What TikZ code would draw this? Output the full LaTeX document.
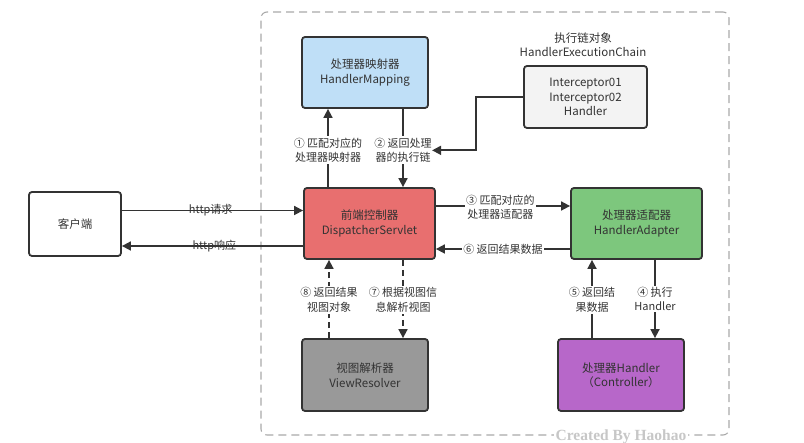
\documentclass[tikz,border=0pt]{standalone}
\usepackage{fontspec}
\setmainfont{Noto Sans CJK SC}
\newfontfamily\wmfont{Liberation Serif}
\usetikzlibrary{arrows.meta}
\definecolor{ink}{HTML}{333333}
\definecolor{hmfill}{HTML}{BFDFF7}
\definecolor{dsfill}{HTML}{E86F6F}
\definecolor{hafill}{HTML}{7DC77D}
\definecolor{vrfill}{HTML}{999999}
\definecolor{hcfill}{HTML}{B767C9}
\definecolor{chfill}{HTML}{F3F3F3}
\definecolor{framec}{HTML}{AAAAAA}
\tikzset{
  box/.style={draw=ink, line width=1.8pt, rounded corners=3pt, align=center,
    text=ink, font=\fontsize{11.5}{14.5}\selectfont, inner sep=0pt},
  conn/.style={draw=ink, line width=1.7pt},
  arr/.style={conn, -{Triangle[length=9pt,width=9pt]}},
  darr/.style={arr, dash pattern=on 6pt off 4pt},
  lbl/.style={fill=white, text=ink, align=center, inner sep=1.5pt,
    font=\fontsize{11}{14.5}\selectfont},
  plbl/.style={text=ink, align=center, inner sep=1pt,
    font=\fontsize{11}{14}\selectfont},
  frame/.style={draw=framec, line width=1.1pt, dash pattern=on 8pt off 5pt,
    rounded corners=6pt, inner sep=0pt}
}
\begin{document}
\begin{tikzpicture}[x=1pt,y=-1pt]
\useasboundingbox[fill=white] (0,0) rectangle (804,443);
% container
\node[frame, minimum width=468pt, minimum height=423pt] (frame) at (495,223.5) {};
% boxes
\node[box, fill=hmfill, minimum width=126pt, minimum height=71pt] (HM) at (365,72.5) {处理器映射器\\HandlerMapping};
\node[box, fill=chfill, minimum width=123pt, minimum height=62pt] (CH) at (585.5,97) {Interceptor01\\Interceptor02\\Handler};
\node[text=ink, align=center, font=\fontsize{11.5}{14}\selectfont] (CHT) at (583,44.5) {执行链对象\\HandlerExecutionChain};
\node[box, fill=white, minimum width=92pt, minimum height=64pt] (CL) at (75,224) {客户端};
\node[box, fill=dsfill, minimum width=131pt, minimum height=71pt] (DS) at (369.5,223.5) {前端控制器\\DispatcherServlet};
\node[box, fill=hafill, minimum width=131pt, minimum height=71pt] (HA) at (636.5,223.5) {处理器适配器\\HandlerAdapter};
\node[box, fill=vrfill, minimum width=126pt, minimum height=72pt] (VR) at (365,375) {视图解析器\\ViewResolver};
\node[box, fill=hcfill, minimum width=126pt, minimum height=72pt] (HC) at (621,375) {处理器Handler\\（Controller）};
% anchor coordinates (yshift is in canvas points: positive = up)
\coordinate (p1) at ([xshift=-41.5pt]DS.north);
\coordinate (p2) at ([xshift=38pt]HM.south);
\coordinate (p3) at ([yshift=17.5pt]DS.east);
\coordinate (p6) at ([yshift=-25.5pt]HA.west);
\coordinate (p5) at ([xshift=-29pt]HC.north);
\coordinate (p4) at ([xshift=18.5pt]HA.south);
\coordinate (p8) at ([xshift=-36pt]VR.north);
\coordinate (p7) at ([xshift=33.5pt]DS.south);
\coordinate (q1) at ([yshift=13.5pt]CL.east);
\coordinate (q2) at ([yshift=-22.5pt]DS.west);
% connectors
\draw[arr] (q1) -- node[plbl, pos=0.49]{http请求} (q1 -| DS.west);
\draw[arr] (q2) -- node[plbl, pos=0.49]{http响应} (q2 -| CL.east);
\draw[arr] (p1) -- node[lbl, pos=0.47]{① 匹配对应的\\处理器映射器} (p1 |- HM.south);
\draw[arr] (p2) -- node[lbl, pos=0.53] (L2) {② 返回处理\\器的执行链} (p2 |- DS.north);
\draw[arr] (CH.west) -- ++(-47,0) |- ([xshift=-2pt]L2.east);
\draw[arr] (p3) -- node[lbl, pos=0.48, yshift=-1.5pt]{③ 匹配对应的\\处理器适配器} (p3 -| HA.west);
\draw[arr] (p6) -- node[lbl, pos=0.5]{⑥ 返回结果数据} (p6 -| DS.east);
\draw[arr] (p5) -- node[lbl, pos=0.49]{⑤ 返回结\\果数据} (p5 |- HA.south);
\draw[arr] (p4) -- node[lbl, pos=0.5]{④ 执行\\Handler} (p4 |- HC.north);
\draw[darr] (p8) -- node[lbl, pos=0.49]{⑧ 返回结果\\视图对象} (p8 |- DS.south);
\draw[darr] (p7) -- node[lbl, pos=0.51]{⑦ 根据视图信\\息解析视图} (p7 |- VR.north);
% watermark
\node[fill=white, inner sep=2pt, text=black!22, font=\wmfont\bfseries\fontsize{15.5}{15.5}\selectfont] (WM) at (621,437) {Created By Haohao};
\end{tikzpicture}
\end{document}
